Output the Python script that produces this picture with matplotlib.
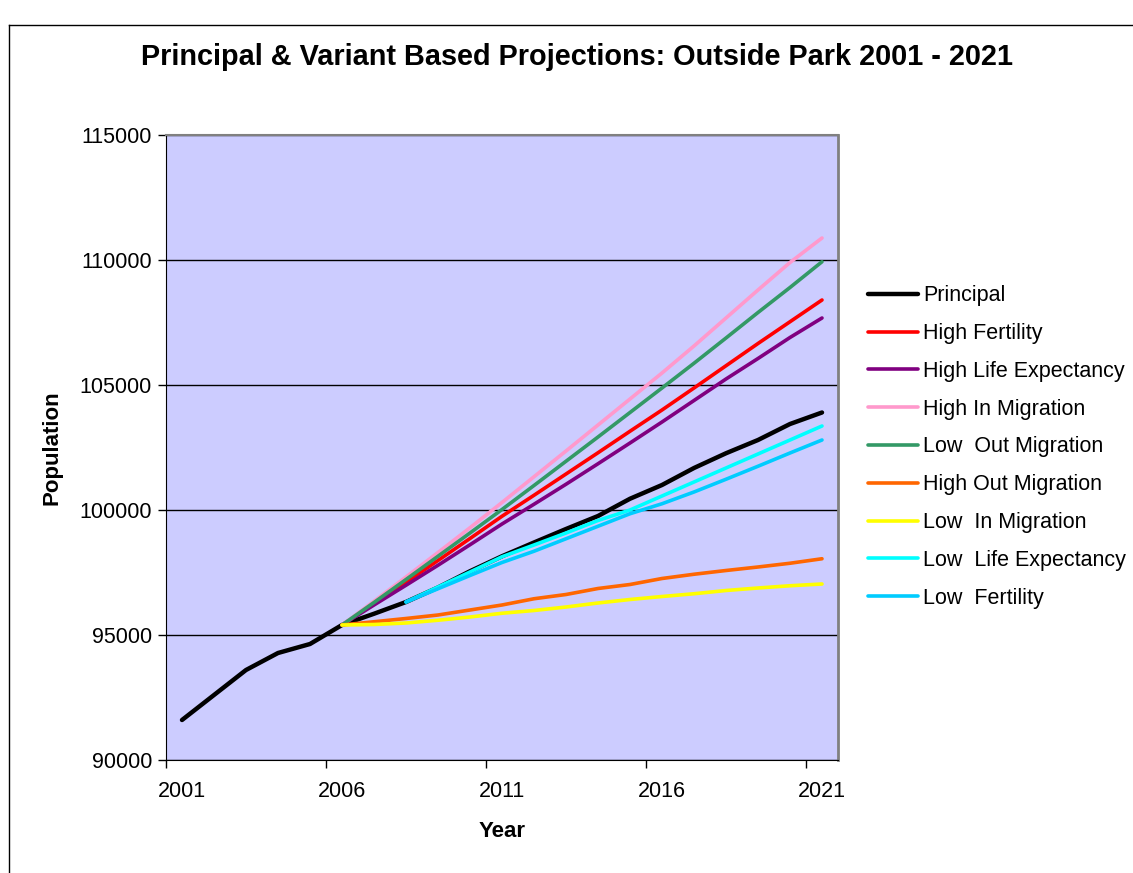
import numpy as np
import matplotlib
matplotlib.use("Agg")
from matplotlib import pyplot as plt
from matplotlib.lines import Line2D

plt.rcParams['font.family'] = ['Liberation Sans', 'DejaVu Sans']

years = list(range(2001, 2022))
nan = np.nan

principal = [91600, 92600, 93600, 94280, 94640, 95400, 95850, 96320, 96900, 97550,
             98150, 98700, 99240, 99760, 100450, 101000, 101680, 102270, 102800, 103440, 103900]
high_fertility = [nan] * 5 + [95400, 96250, 97110, 97980, 98860, 99750, 100590, 101440, 102290,
                              103150, 104000, 104880, 105770, 106660, 107530, 108400]
high_life_exp = [nan] * 5 + [95400, 96200, 96990, 97790, 98610, 99440, 100230, 101030, 101850,
                             102680, 103520, 104380, 105240, 106060, 106900, 107680]
high_in_mig = [nan] * 5 + [95400, 96350, 97320, 98300, 99290, 100300, 101330, 102360, 103400,
                           104440, 105480, 106560, 107680, 108800, 109900, 110880]
low_out_mig = [nan] * 5 + [95400, 96300, 97220, 98150, 99080, 100020, 100980, 101950, 102920,
                           103900, 104880, 105870, 106880, 107900, 108900, 109930]
high_out_mig = [nan] * 5 + [95400, 95530, 95660, 95800, 96000, 96200, 96450, 96620, 96860,
                            97020, 97260, 97430, 97580, 97720, 97870, 98050]
low_in_mig = [nan] * 5 + [95400, 95420, 95480, 95590, 95720, 95870, 95980, 96120, 96280,
                          96420, 96540, 96650, 96780, 96880, 96970, 97040]
low_life_exp = [nan] * 7 + [96320, 96920, 97520, 98130, 98600, 99080, 99580,
                            100000, 100560, 101120, 101680, 102240, 102800, 103360]
low_fertility = [nan] * 7 + [96320, 96850, 97380, 97900, 98350, 98850, 99350,
                             99850, 100250, 100720, 101230, 101750, 102280, 102800]

series = [
    ("Principal", principal, "#000000", 3.2),
    ("High Fertility", high_fertility, "#FF0000", 2.6),
    ("High Life Expectancy", high_life_exp, "#800080", 2.6),
    ("High In Migration", high_in_mig, "#FF99CC", 2.6),
    ("Low  Out Migration", low_out_mig, "#339966", 2.6),
    ("High Out Migration", high_out_mig, "#FF6600", 2.6),
    ("Low  In Migration", low_in_mig, "#FFFF00", 2.6),
    ("Low  Life Expectancy", low_life_exp, "#00FFFF", 2.6),
    ("Low  Fertility", low_fertility, "#00CCFF", 2.6),
]

fig = plt.figure(figsize=(11.33, 8.73), dpi=100)
ax = fig.add_axes([166 / 1133, 1 - 760 / 873, (838 - 166) / 1133, (760 - 135) / 873])
ax.set_facecolor("#CCCCFF")

x = np.arange(len(years))
for name, vals, col, lw in series:
    ax.plot(x, vals, color=col, lw=lw, label=name, solid_capstyle='round')

ax.set_xlim(-0.5, len(years) - 0.5)
ax.set_ylim(90000, 115000)
ax.set_yticks(range(90000, 115001, 5000))
ax.yaxis.grid(True, color="black", lw=1)
ax.set_axisbelow(True)

# category ticks between labels, labels every 5 years
ax.set_xticks(np.arange(-0.5, len(years), 5))
ax.set_xticklabels([])
ax.set_xticks(x[::5], minor=True)
ax.set_xticklabels([str(y) for y in years[::5]], minor=True)
ax.tick_params(axis='x', which='minor', length=0, pad=15, labelsize=15.5)
ax.tick_params(axis='x', which='major', length=6, width=1, direction='out')
ax.tick_params(axis='y', length=6, width=1, direction='out', labelsize=15.5, pad=4)

ax.spines['top'].set_color("#808080")
ax.spines['right'].set_color("#808080")
ax.spines['right'].set_linewidth(2)
ax.spines['top'].set_linewidth(1.5)

ax.set_xlabel("Year", fontsize=16, fontweight='bold', labelpad=14)
ax.set_ylabel("Population", fontsize=16, fontweight='bold', labelpad=12)

fig.text(0.509, 1 - 57 / 873, "Principal & Variant Based Projections: Outside Park 2001 - 2021",
         ha='center', va='center', fontsize=20.8, fontweight='bold')

ax.legend(loc='center left', bbox_to_anchor=(849 / 1133, 1 - 447 / 873),
          bbox_transform=fig.transFigure, frameon=False, fontsize=15.5,
          handlelength=2.3, handletextpad=0.25, labelspacing=0.78)

# outer chart frame
fig.add_artist(Line2D([9 / 1133, 1.0], [1 - 25 / 873] * 2, color="black", lw=1))
fig.add_artist(Line2D([9 / 1133] * 2, [0, 1 - 25 / 873], color="black", lw=1))

fig.savefig("out.png", dpi=100)
